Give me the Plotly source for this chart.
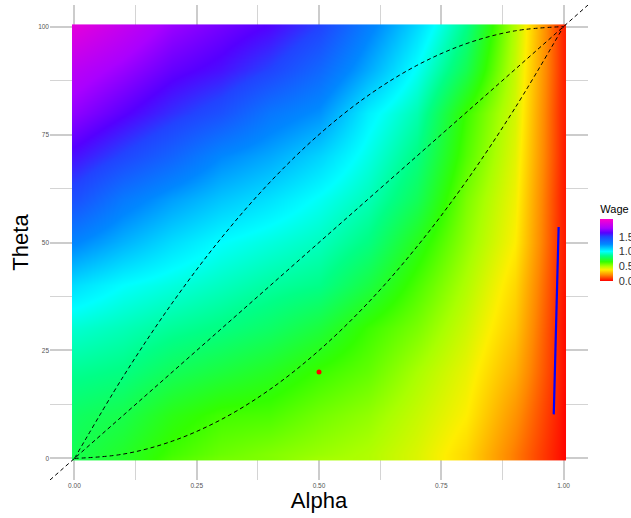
import plotly.graph_objects as go

# ---------------- data ----------------
alpha = [0.0, 0.01, 0.1, 0.2, 0.3, 0.4, 0.5, 0.6, 0.7, 0.8, 0.9, 0.99, 1.0]
theta = [0, 1, 10, 20, 30, 40, 50, 60, 70, 80, 90, 99, 100]

# wage[theta_index][alpha_index]
wage_t000 = [0.76, 0.76, 0.71, 0.62, 0.57, 0.55, 0.51, 0.49, 0.43, 0.34, 0.18, 0.03, 0.01]
wage_t001 = [0.77, 0.76, 0.71, 0.63, 0.58, 0.55, 0.52, 0.49, 0.43, 0.34, 0.18, 0.03, 0.01]
wage_t010 = [0.80, 0.79, 0.76, 0.68, 0.63, 0.62, 0.57, 0.53, 0.46, 0.38, 0.22, 0.04, 0.01]
wage_t020 = [0.86, 0.86, 0.84, 0.78, 0.74, 0.70, 0.64, 0.59, 0.50, 0.41, 0.27, 0.05, 0.02]
wage_t030 = [0.94, 0.94, 0.91, 0.87, 0.84, 0.80, 0.74, 0.64, 0.56, 0.45, 0.31, 0.05, 0.02]
wage_t040 = [1.07, 1.06, 1.00, 0.96, 0.92, 0.88, 0.85, 0.75, 0.62, 0.49, 0.34, 0.06, 0.03]
wage_t050 = [1.26, 1.25, 1.16, 1.07, 1.00, 0.96, 0.92, 0.84, 0.69, 0.53, 0.38, 0.07, 0.04]
wage_t060 = [1.45, 1.44, 1.30, 1.20, 1.12, 1.06, 0.99, 0.91, 0.78, 0.56, 0.40, 0.07, 0.04]
wage_t070 = [1.60, 1.59, 1.49, 1.38, 1.25, 1.18, 1.09, 0.97, 0.84, 0.61, 0.42, 0.08, 0.04]
wage_t080 = [1.74, 1.73, 1.64, 1.54, 1.45, 1.31, 1.23, 1.03, 0.90, 0.64, 0.44, 0.08, 0.05]
wage_t090 = [1.85, 1.84, 1.76, 1.66, 1.60, 1.50, 1.37, 1.18, 0.99, 0.77, 0.46, 0.09, 0.05]
wage_t099 = [1.98, 1.97, 1.87, 1.75, 1.68, 1.61, 1.49, 1.27, 1.07, 0.84, 0.48, 0.09, 0.05]
wage_t100 = [2.00, 1.99, 1.88, 1.76, 1.69, 1.62, 1.50, 1.28, 1.08, 0.85, 0.48, 0.09, 0.05]
wage = [wage_t000, wage_t001, wage_t010, wage_t020, wage_t030, wage_t040, wage_t050,
        wage_t060, wage_t070, wage_t080, wage_t090, wage_t099, wage_t100]

# dashed reference curves
curve_alpha = [0.0, 0.1, 0.2, 0.3, 0.4, 0.5, 0.6, 0.7, 0.8, 0.9, 1.0]
lower_theta = [0, 1, 4, 9, 16, 25, 36, 49, 64, 81, 100]
upper_theta = [0, 19, 36, 51, 64, 75, 84, 91, 96, 99, 100]
diag_slope = 100

# red point
point_alpha = [0.5]
point_theta = [20]

# blue segment
blue_alpha = [0.980, 0.990]
blue_theta = [10.2, 53.6]

x_ticks = [0.0, 0.25, 0.5, 0.75, 1.0]
x_ticklabels = ["0.00", "0.25", "0.50", "0.75", "1.00"]
y_ticks = [0, 25, 50, 75, 100]
y_ticklabels = ["0", "25", "50", "75", "100"]
wage_ticks = [0.0, 0.5, 1.0, 1.5]
wage_ticklabels = ["0.0", "0.5", "1.0", "1.5"]

# colour scale (value -> colour)
scale_values = [0.0, 0.2, 0.38, 0.5, 0.65, 0.85, 1.0, 1.25, 1.5, 1.63, 1.79, 2.1]
scale_colors = ["#FF0000", "#FF8800", "#FFEE00", "#AAFF00", "#33FF00", "#00FF88",
                "#00FFFF", "#0088FF", "#2244FF", "#5500FF", "#AA00FF", "#FF00CC"]

# ---------------- figure ----------------
x_range = [-0.05, 1.05]
y_range = [-5, 105]
zmin, zmax = scale_values[0], scale_values[-1]
colorscale = [[(v - zmin) / (zmax - zmin), c] for v, c in zip(scale_values, scale_colors)]

FONT = "Liberation Sans, Arial, sans-serif"

fig = go.Figure()
fig.add_trace(go.Heatmap(
    x=alpha, y=theta, z=wage,
    zsmooth="best", colorscale=colorscale, zmin=zmin, zmax=zmax,
    colorbar=dict(
        title=dict(text="Wage", side="top",
                   font=dict(size=11, color="#000000", family=FONT)),
        x=1.023, xanchor="left", xpad=0,
        y=0.502, yanchor="middle", ypad=0,
        len=79, lenmode="pixels", thickness=13,
        outlinewidth=0,
        tickvals=wage_ticks, ticktext=wage_ticklabels,
        ticks="outside", tickcolor="rgba(0,0,0,0)", ticklen=4,
        tickfont=dict(size=11, color="#333333", family=FONT),
    ),
    hoverinfo="skip",
))

dash = "4px,3px"
fig.add_trace(go.Scatter(
    x=x_range, y=[diag_slope * v for v in x_range], mode="lines",
    line=dict(color="black", width=1, dash=dash), showlegend=False))
fig.add_trace(go.Scatter(
    x=curve_alpha, y=lower_theta, mode="lines", line_shape="spline",
    line=dict(color="black", width=1, dash=dash), showlegend=False))
fig.add_trace(go.Scatter(
    x=curve_alpha, y=upper_theta, mode="lines", line_shape="spline",
    line=dict(color="black", width=1, dash=dash), showlegend=False))
fig.add_trace(go.Scatter(
    x=blue_alpha, y=blue_theta, mode="lines",
    line=dict(color="#0000FF", width=2.2), showlegend=False))
fig.add_trace(go.Scatter(
    x=point_alpha, y=point_theta, mode="markers",
    marker=dict(color="#FF0000", size=5), showlegend=False))

axis_common = dict(
    showgrid=True, gridcolor="#CCCCCC", gridwidth=1.7,
    zeroline=False, showline=False, ticks="", automargin=False,
    tickfont=dict(size=6.5, color="#555555", family=FONT),
)
fig.update_layout(
    width=631, height=518,
    margin=dict(l=50, r=43.3, t=5, b=38, autoexpand=False),
    paper_bgcolor="white", plot_bgcolor="white",
    showlegend=False,
    font=dict(family=FONT),
    xaxis=dict(range=x_range, tickvals=x_ticks, ticktext=x_ticklabels,
               minor=dict(dtick=0.125, tick0=0, showgrid=True,
                          gridcolor="#D4D4D4", gridwidth=1),
               title=dict(text="Alpha", font=dict(size=22, color="black"),
                          standoff=4),
               **axis_common),
    yaxis=dict(range=y_range, tickvals=y_ticks, ticktext=y_ticklabels,
               minor=dict(dtick=12.5, tick0=0, showgrid=True,
                          gridcolor="#D4D4D4", gridwidth=1),
               title=dict(text="Theta", font=dict(size=22, color="black"),
                          standoff=3),
               **axis_common),
)

fig.write_html(
    "out.html",
    config={"displayModeBar": False},
    post_script="document.body.style.margin='0px';document.body.style.padding='0px';",
)
